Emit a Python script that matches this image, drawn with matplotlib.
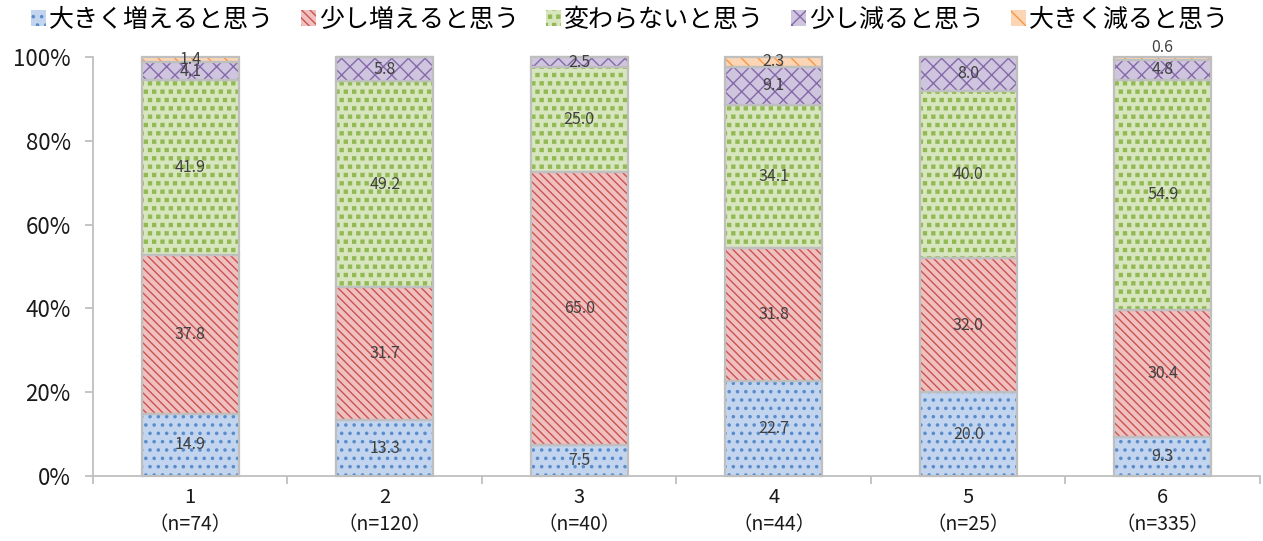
import numpy as np
import matplotlib
matplotlib.use("Agg")
import matplotlib.pyplot as plt
import matplotlib.hatch as mhatch
from matplotlib.path import Path
from matplotlib.transforms import blended_transform_factory

plt.rcParams['font.family'] = ['Noto Sans CJK JP', 'DejaVu Sans']
plt.rcParams['hatch.linewidth'] = 1.0

# Data
groups = ["1", "2", "3", "4", "5", "6"]
sample_sizes = ["（n=74）", "（n=120）", "（n=40）", "（n=44）", "（n=25）", "（n=335）"]
series_names = ["大きく増えると思う", "少し増えると思う", "変わらないと思う", "少し減ると思う", "大きく減ると思う"]
big_increase = [14.9, 13.3, 7.5, 22.7, 20.0, 9.3]
small_increase = [37.8, 31.7, 65.0, 31.8, 32.0, 30.4]
no_change = [41.9, 49.2, 25.0, 34.1, 40.0, 54.9]
small_decrease = [4.1, 5.8, 2.5, 9.1, 8.0, 4.8]
big_decrease = [1.4, 0.0, 0.0, 2.3, 0.0, 0.6]

# fill, hatch colour, hatch pattern
STYLES = [
    ("#c3d5ee", "#5a8ccc", ".."),
    ("#f0bfbf", "#c9534f", "\\\\\\\\"),
    ("#d8e6bf", "#93b955", "**"),
    ("#cfc5de", "#8469a9", "xx"),
    ("#fcd5b5", "#f79646", "\\\\"),
]


# Excel-like small square pattern, reusing the '*' hatch character
class SmallSquares(mhatch.Shapes):
    size = 0.18
    filled = True

    def __init__(self, hatch, density):
        self.num_rows = hatch.count('*') * density
        self.shape_vertices = np.array([[-1, -1], [1, -1], [1, 1], [-1, 1], [-1, -1]], float)
        self.shape_codes = np.array([Path.MOVETO, Path.LINETO, Path.LINETO,
                                     Path.LINETO, Path.CLOSEPOLY], dtype=Path.code_type)
        super().__init__(hatch, density)


mhatch._hatch_types = [SmallSquares if t is mhatch.Stars else t for t in mhatch._hatch_types]
mhatch.SmallFilledCircles.size = 0.13


def main():
    series = [big_increase, small_increase, no_change, small_decrease, big_decrease]
    x = np.arange(len(groups))
    width = 0.5

    fig = plt.figure(figsize=(12.63, 5.41), dpi=100)
    ax = fig.add_axes([0.0736, 0.1201, 0.9240, 0.7745])

    bottom = np.zeros(len(groups))
    handles = []
    for name, vals, (fill, hcol, hatch) in zip(series_names, series, STYLES):
        vals = np.array(vals)
        b = ax.bar(x, vals, width, bottom=bottom, color=fill, edgecolor=hcol,
                   hatch=hatch, linewidth=0, label=name, clip_on=False, zorder=2)
        ax.bar(x, vals, width, bottom=bottom, facecolor="none", edgecolor="#bfbfbf",
               linewidth=1.6, clip_on=False, zorder=3)
        handles.append(b)
        for xi, v, b0 in zip(x, vals, bottom):
            if v <= 0:
                continue
            y = b0 + v / 2
            if v < 1:
                y = b0 + v + 2.2
            ax.text(xi, y, f"{v:.1f}", ha="center", va="center", fontsize=11.5,
                    color="#404040", zorder=4)
        bottom += vals

    ax.set_xlim(-0.5, len(groups) - 0.5)
    ax.set_ylim(0, 100)
    ax.set_yticks(np.arange(0, 101, 20))
    ax.set_yticklabels([f"{v}%" for v in range(0, 101, 20)], fontsize=16, color="#1a1a1a")
    ax.set_xticks(np.arange(-0.5, len(groups), 1.0))
    ax.set_xticklabels([])
    ax.tick_params(axis="both", color="#bfbfbf", width=1.3, length=6)
    ax.tick_params(axis="y", pad=10)

    for side in ["top", "right"]:
        ax.spines[side].set_visible(False)
    for side in ["left", "bottom"]:
        ax.spines[side].set_color("#bfbfbf")
        ax.spines[side].set_linewidth(1.3)

    trans = blended_transform_factory(ax.transData, ax.transAxes)
    for xi, g, n in zip(x, groups, sample_sizes):
        ax.text(xi, -0.052, g, transform=trans, ha="center", va="center",
                fontsize=14.5, color="#1a1a1a")
        ax.text(xi, -0.115, n, transform=trans, ha="center", va="center",
                fontsize=14, color="#1a1a1a")

    fig.legend(handles=handles, labels=series_names, loc="center", ncol=5,
               bbox_to_anchor=(0.499, 0.963), frameon=False, fontsize=18,
               handlelength=0.6, handleheight=0.6, handletextpad=0.12,
               columnspacing=1.08)

    fig.savefig("out.png", dpi=100)


if __name__ == "__main__":
    main()
